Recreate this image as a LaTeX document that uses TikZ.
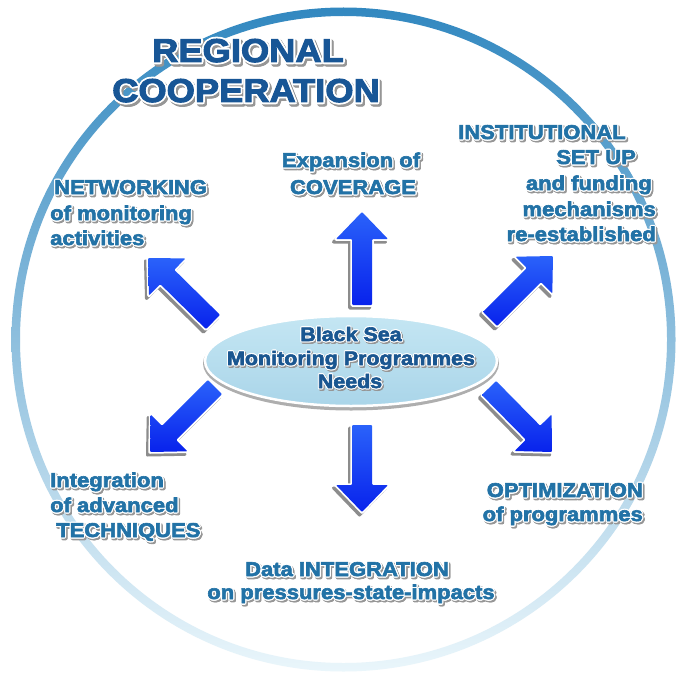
\documentclass[tikz,border=0pt]{standalone}
\usepackage{fontspec}
\newfontfamily\lblfont{Liberation Sans}[FakeStretch=1.1, FakeBold=3]
\usetikzlibrary{calc,shapes.geometric}

\definecolor{ringtop}{RGB}{50,136,192}
\definecolor{ringmid}{RGB}{100,176,215}
\definecolor{ringbot}{RGB}{234,246,251}
\definecolor{titleblue}{RGB}{24,86,150}
\definecolor{labelblue}{RGB}{34,114,166}
\definecolor{hubblue}{RGB}{26,86,144}
\definecolor{hubtop}{RGB}{196,230,243}
\definecolor{hubbot}{RGB}{170,213,233}
\definecolor{arrowdark}{RGB}{8,34,236}
\definecolor{arrowlight}{RGB}{42,98,250}
\definecolor{softshadow}{RGB}{140,140,140}
\definecolor{glowshadow}{RGB}{150,150,150}

% text with a grey drop shadow and a white halo behind it
\newcommand\glowtext[2][1.3]{%
  \leavevmode
  \foreach \gang in {0,45,...,315}{%
    \pgfmathsetlengthmacro\glwx{#1*cos(\gang)+1.1*#1}%
    \pgfmathsetlengthmacro\glwy{#1*sin(\gang)-1.3*#1}%
    \rlap{\kern\glwx\raisebox{\glwy}{\textcolor{glowshadow}{#2}}}}%
  \foreach \gang in {0,45,...,315}{%
    \pgfmathsetlengthmacro\glwx{#1*cos(\gang)}%
    \pgfmathsetlengthmacro\glwy{#1*sin(\gang)}%
    \rlap{\kern\glwx\raisebox{\glwy}{\textcolor{white}{#2}}}}%
  #2}

% block arrow from #2 (base) to #3 (tip), coordinates named after #1
\newcommand\blockarrow[3]{%
  \coordinate (#1-h) at ($(#3)!27pt!(#2)$);
  \coordinate (#1-a) at ($(#2)!10pt!90:(#3)$);
  \coordinate (#1-b) at ($(#1-h)!10pt!90:(#3)$);
  \coordinate (#1-c) at ($(#1-h)!26pt!90:(#3)$);
  \coordinate (#1-d) at ($(#1-h)!26pt!-90:(#3)$);
  \coordinate (#1-e) at ($(#1-h)!10pt!-90:(#3)$);
  \coordinate (#1-f) at ($(#2)!10pt!-90:(#3)$);
  \filldraw[arrowshadow] (#1-a) -- (#1-b) -- (#1-c) -- (#3) -- (#1-d) -- (#1-e) -- (#1-f) -- cycle;
  \draw[arrowrim] (#1-a) -- (#1-b) -- (#1-c) -- (#3) -- (#1-d) -- (#1-e) -- (#1-f) -- cycle;
  \shade[arrowbody] (#1-a) -- (#1-b) -- (#1-c) -- (#3) -- (#1-d) -- (#1-e) -- (#1-f) -- cycle;
}

\tikzset{
  ttl/.style={inner sep=0pt, text=titleblue, font=\lblfont\bfseries\fontsize{33}{40}\selectfont},
  lbl/.style={inner sep=0pt, text=labelblue, font=\lblfont\bfseries\fontsize{20}{24}\selectfont},
  hubtext/.style={inner sep=0pt, text=hubblue, font=\lblfont\bfseries\fontsize{19.5}{24}\selectfont},
  arrowshadow/.style={fill=softshadow, draw=softshadow, line width=3pt, line join=round,
    transform canvas={xshift=-2.5pt, yshift=-3pt}},
  arrowrim/.style={draw=white, line width=3.5pt, line join=round},
  arrowbody/.style={top color=arrowlight, bottom color=arrowdark, rounded corners=1pt},
  hubshape/.style={ellipse, inner sep=0pt, minimum width=292pt, minimum height=90pt,
    top color=hubtop, bottom color=hubbot, draw=white, line width=2.5pt},
}

\begin{document}
\begin{tikzpicture}[x=1pt, y=-1pt]
  \useasboundingbox (0,0) rectangle (684,679);
  \fill[white] (0,0) rectangle (684,679);

  % outer ring
  \shade[top color=ringtop, middle color=ringmid, bottom color=ringbot, even odd rule]
    (343.5,339.5) circle[radius=332] circle[radius=323.5];

  % central ellipse
  \fill[softshadow!70] (351,363.5) ellipse[x radius=148, y radius=47];
  \node[hubshape] (hub) at (351,361) {};
  \node[hubtext, anchor=base] (hub1) at (351,341) {\glowtext[1.1]{Black Sea}};
  \node[hubtext, anchor=base] (hub2) at (351,365) {\glowtext[1.1]{Monitoring Programmes}};
  \node[hubtext, anchor=base] (hub3) at (350,388) {\glowtext[1.1]{Needs}};

  % arrows
  \coordinate (upb) at (362,305);   \coordinate (upt) at (362,212);
  \coordinate (urb) at (490,319);   \coordinate (urt) at (553,256);
  \coordinate (drb) at (489,388);   \coordinate (drt) at (552,452);
  \coordinate (dnb) at (362,425);   \coordinate (dnt) at (362,512);
  \coordinate (dlb) at (215,387);   \coordinate (dlt) at (150,452);
  \coordinate (ulb) at (213,322);   \coordinate (ult) at (148,258);
  \blockarrow{up}{upb}{upt}
  \blockarrow{ur}{urb}{urt}
  \blockarrow{dr}{drb}{drt}
  \blockarrow{dn}{dnb}{dnt}
  \blockarrow{dl}{dlb}{dlt}
  \blockarrow{ul}{ulb}{ult}

  % title
  \node[ttl, anchor=base] (title1) at (248,62) {\glowtext[1.8]{REGIONAL}};
  \node[ttl, anchor=base] (title2) at (246,102) {\glowtext[1.8]{COOPERATION}};

  % labels
  \node[lbl, anchor=base] (exp1) at (351,167) {\glowtext{Expansion of}};
  \node[lbl, anchor=base] (exp2) at (353,194) {\glowtext{COVERAGE}};

  \node[lbl, anchor=base west] (net1) at (54,194) {\glowtext{NETWORKING}};
  \node[lbl, anchor=base west] (net2) at (50,220) {\glowtext{of monitoring}};
  \node[lbl, anchor=base west] (net3) at (50,245) {\glowtext{activities}};

  \node[lbl, anchor=base west] (ins1) at (458,139) {\glowtext{INSTITUTIONAL}};
  \node[lbl, anchor=base east] (ins2) at (636,164) {\glowtext{SET UP}};
  \node[lbl, anchor=base east] (ins3) at (652,190) {\glowtext{and funding}};
  \node[lbl, anchor=base east] (ins4) at (656,216) {\glowtext{mechanisms}};
  \node[lbl, anchor=base east] (ins5) at (656,241) {\glowtext{re-established}};

  \node[lbl, anchor=base west] (tec1) at (50,487) {\glowtext{Integration}};
  \node[lbl, anchor=base west] (tec2) at (50,512) {\glowtext{of advanced}};
  \node[lbl, anchor=base west] (tec3) at (56,537) {\glowtext{TECHNIQUES}};

  \node[lbl, anchor=base east] (opt1) at (643,497) {\glowtext{OPTIMIZATION}};
  \node[lbl, anchor=base east] (opt2) at (643,521) {\glowtext{of programmes}};

  \node[lbl, anchor=base] (dat1) at (347,576) {\glowtext{Data INTEGRATION}};
  \node[lbl, anchor=base] (dat2) at (351,599) {\glowtext{on pressures-state-impacts}};
\end{tikzpicture}
\end{document}
